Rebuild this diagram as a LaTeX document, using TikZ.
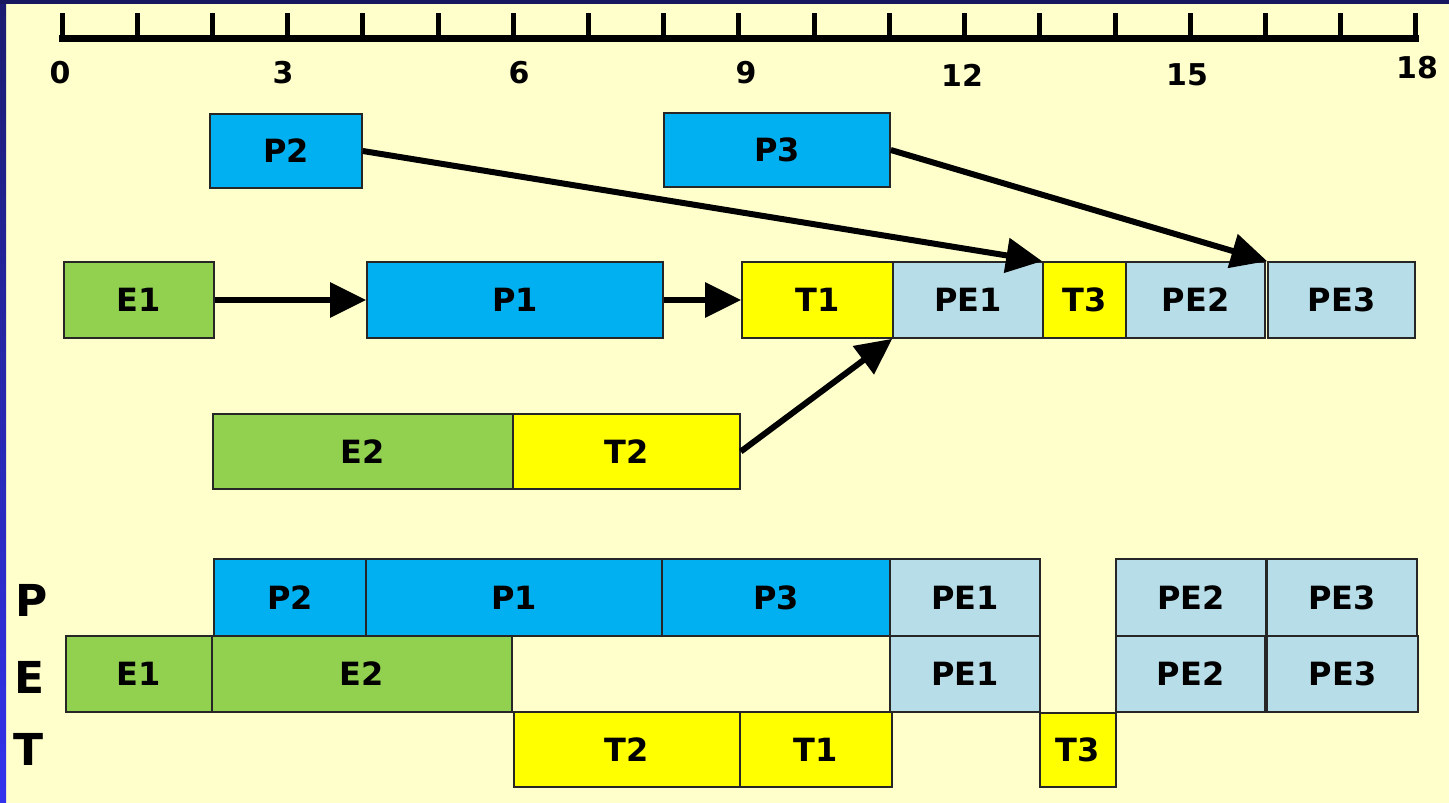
\documentclass[tikz,border=0pt]{standalone}
\usepackage{fontspec}
\setmainfont{DejaVu Sans}
\usetikzlibrary{arrows.meta}
\definecolor{bg}{HTML}{FFFFCC}
\definecolor{pblue}{HTML}{00B0F0}
\definecolor{egreen}{HTML}{92D050}
\definecolor{tyellow}{HTML}{FFFF00}
\definecolor{pelight}{HTML}{B7DDE8}
\definecolor{navy}{HTML}{17175F}
\definecolor{bandtop}{HTML}{1B1B70}
\definecolor{bandbot}{HTML}{3333EE}
\tikzset{
  box/.style={draw=black!85, line width=1.6pt, rectangle, inner sep=0pt,
    font=\fontsize{32}{32}\selectfont\bfseries},
  pbox/.style={box, fill=pblue},
  ebox/.style={box, fill=egreen},
  tbox/.style={box, fill=tyellow},
  pebox/.style={box, fill=pelight},
  conn/.style={line width=6pt, -{Triangle[length=36pt,width=34pt]}},
  num/.style={font=\fontsize{30}{30}\selectfont\bfseries, inner sep=0pt},
  rowlab/.style={font=\fontsize{44}{44}\selectfont\bfseries, inner sep=0pt},
}
\begin{document}
\begin{tikzpicture}[x=1pt,y=-1pt]
\useasboundingbox (0,0) rectangle (1449,803);
\fill[bg] (0,0) rectangle (1449,803);
\shade[top color=bandtop, bottom color=bandbot] (0,0) rectangle (6,803);
\fill[navy] (0,0) rectangle (1449,4);

% ruler
\draw[line width=7pt] (59,38.5) -- (1419,38.5);
\foreach \i in {0,...,18} {
  \draw[line width=5pt] ({62+\i*75.22},13) -- ({62+\i*75.22},38);
}
\node[num] (n0) at (60,73) {0};
\node[num] (n3) at (283,73) {3};
\node[num] (n6) at (519,73) {6};
\node[num] (n9) at (746,73) {9};
\node[num] (n12) at (962,75) {12};
\node[num] (n15) at (1187,75) {15};
\node[num] (n18) at (1417,68) {18};

% row 1
\node[pbox, minimum width=152pt, minimum height=74pt] (P2a) at (286,151) {P2};
\node[pbox, minimum width=226pt, minimum height=74pt] (P3a) at (777,150) {P3};
% row 2
\node[ebox, minimum width=150pt, minimum height=76pt] (E1a) at (139,300) {E1};
\node[pbox, minimum width=296pt, minimum height=76pt] (P1a) at (515,300) {P1};
\node[tbox, minimum width=151pt, minimum height=76pt] (T1a) at (817.5,300) {T1};
\node[pebox, minimum width=150pt, minimum height=76pt] (PE1a) at (968,300) {PE1};
\node[tbox, minimum width=83pt, minimum height=76pt] (T3a) at (1084.5,300) {T3};
\node[pebox, minimum width=139pt, minimum height=76pt] (PE2a) at (1195.5,300) {PE2};
\node[pebox, minimum width=147pt, minimum height=76pt] (PE3a) at (1341.5,300) {PE3};
% row 3
\node[ebox, minimum width=300pt, minimum height=75pt] (E2a) at (363,451.5) {E2};
\node[tbox, minimum width=227pt, minimum height=75pt] (T2a) at (626.5,451.5) {T2};

% arrows
\draw[conn] (E1a.east) -- (P1a.west);
\draw[conn] (P1a.east) -- (T1a.west);
\draw[conn] (T2a.east) -- (PE1a.south west);
\draw[conn] (P2a.east) -- (T3a.north west);
\draw[conn] (P3a.east) -- (PE3a.north west);

% row labels
\node[rowlab] (LP) at (32,600) {P};
\node[rowlab] (LE) at (30,677) {E};
\node[rowlab] (LT) at (29,749) {T};

% P row
\node[pbox, minimum width=152pt, minimum height=77pt] (P2b) at (290,597.5) {P2};
\node[pbox, minimum width=296pt, minimum height=77pt] (P1b) at (514,597.5) {P1};
\node[pbox, minimum width=228pt, minimum height=77pt] (P3b) at (776,597.5) {P3};
\node[pebox, minimum width=150pt, minimum height=77pt] (PE1b) at (965,597.5) {PE1};
\node[pebox, minimum width=150pt, minimum height=77pt] (PE2b) at (1191,597.5) {PE2};
\node[pebox, minimum width=150pt, minimum height=77pt] (PE3b) at (1342,597.5) {PE3};
% E row
\node[ebox, minimum width=146pt, minimum height=76pt] (E1b) at (139,674) {E1};
\node[ebox, minimum width=300pt, minimum height=76pt] (E2b) at (362,674) {E2};
\node[pebox, minimum width=150pt, minimum height=76pt] (PE1c) at (965,674) {PE1};
\node[pebox, minimum width=149pt, minimum height=76pt] (PE2c) at (1190.5,674) {PE2};
\node[pebox, minimum width=151pt, minimum height=76pt] (PE3c) at (1342.5,674) {PE3};
% T row
\node[tbox, minimum width=226pt, minimum height=75pt] (T2b) at (627,749.5) {T2};
\node[tbox, minimum width=152pt, minimum height=75pt] (T1b) at (816,749.5) {T1};
\node[tbox, minimum width=76pt, minimum height=74pt] (T3b) at (1078,750) {T3};
\end{tikzpicture}
\end{document}
